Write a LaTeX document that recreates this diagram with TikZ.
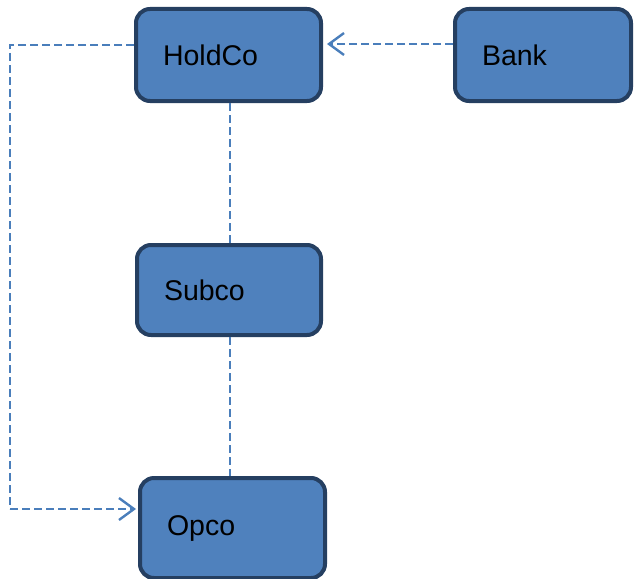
\documentclass[tikz,border=0pt]{standalone}
\usepackage{fontspec}
\setmainfont{Liberation Sans}
\usetikzlibrary{arrows.meta}
\definecolor{boxfill}{HTML}{4F81BD}
\definecolor{boxline}{HTML}{253F61}
\definecolor{conn}{HTML}{4A7EBB}
\tikzset{
  entity/.style={draw=boxline, fill=boxfill, line width=4pt, rounded corners=14pt,
    inner xsep=27pt, inner ysep=0pt, align=left, anchor=center,
    font=\fontsize{28.5}{32}\selectfont},
  link/.style={draw=conn, line width=2.4pt, dash pattern=on 8pt off 4pt},
  tip/.style={-{Straight Barb[length=15pt,width=22pt,line width=2.4pt]}}
}
\begin{document}
\begin{tikzpicture}[x=1pt,y=-1pt]
\useasboundingbox (0,0) rectangle (636,578);
\node[entity, minimum width=185pt, minimum height=92pt, text width=131pt] (holdco) at (228.5,55) {HoldCo};
\node[entity, minimum width=176pt, minimum height=92pt, text width=122pt] (bank) at (543,55) {Bank};
\node[entity, minimum width=184pt, minimum height=90pt, text width=130pt] (subco) at (229,290) {Subco};
\node[entity, minimum width=185pt, minimum height=100pt, text width=131pt] (opco) at (232.5,528) {Opco};
\coordinate (lt) at (10,45);
\coordinate (lb) at (10,509);
\coordinate (bk) at (0,44);
\draw[link] (holdco.west |- lt) -- (lt) -- (lb);
\draw[link, tip] (lb) -- ([xshift=-2pt]opco.west |- lb);
\draw[link, tip, shorten >=4pt] (bank.west |- bk) -- (holdco.east |- bk);
\draw[link] (230,0 |- holdco.south) -- (230,0 |- subco.north);
\draw[link] (230,0 |- subco.south) -- (230,0 |- opco.north);
\end{tikzpicture}
\end{document}
